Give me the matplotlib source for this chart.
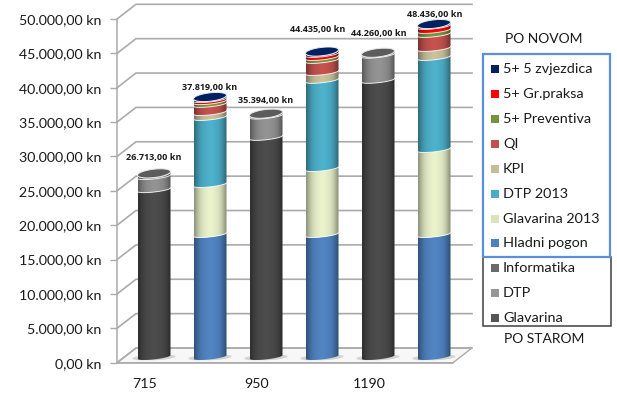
import numpy as np
import matplotlib
matplotlib.use("Agg")
import matplotlib.pyplot as plt
from matplotlib.patches import Polygon, Rectangle
from matplotlib.colors import to_rgb

W, H = 617, 394
plt.rcParams['font.family'] = ['Lato', 'DejaVu Sans']

# ---- data ----
bar_labels = ['715', '', '950', '', '1190', '']
totals_text = ['26.713,00 kn', '37.819,00 kn', '35.394,00 kn', '44.435,00 kn', '44.260,00 kn', '48.436,00 kn']
y_ticks = [0, 5000, 10000, 15000, 20000, 25000, 30000, 35000, 40000, 45000, 50000]
y_tick_labels = ['0,00 kn', '5.000,00 kn', '10.000,00 kn', '15.000,00 kn', '20.000,00 kn', '25.000,00 kn',
                 '30.000,00 kn', '35.000,00 kn', '40.000,00 kn', '45.000,00 kn', '50.000,00 kn']

glavarina   = [24000, 0, 31600, 0, 39900, 0]
dtp         = [1900, 0, 3100, 0, 3660, 0]
informatika = [813, 0, 694, 0, 700, 0]
hladni      = [0, 17470, 0, 17470, 0, 17470]
glav2013    = [0, 7280, 0, 9600, 0, 12370]
dtp2013     = [0, 9750, 0, 12830, 0, 13390]
kpi         = [0, 720, 0, 1150, 0, 1310]
qi          = [0, 1180, 0, 1750, 0, 2040]
preventiva  = [0, 400, 0, 430, 0, 580]
grpraksa    = [0, 300, 0, 440, 0, 580]
zvjezdica   = [0, 719, 0, 765, 0, 696]

series = [
    ('Glavarina', glavarina, '#4a4a4a'),
    ('DTP', dtp, '#8f8f8f'),
    ('Informatika', informatika, '#7c7c7c'),
    ('Hladni pogon', hladni, '#4f81bd'),
    ('Glavarina 2013', glav2013, '#e3ecc6'),
    ('DTP 2013', dtp2013, '#4bacc6'),
    ('KPI', kpi, '#c4bd97'),
    ('QI', qi, '#c0504d'),
    ('5+ Preventiva', preventiva, '#76923c'),
    ('5+ Gr.praksa', grpraksa, '#ff0000'),
    ('5+ 5 zvjezdica', zvjezdica, '#002060'),
]
legend_new = ['5+ 5 zvjezdica', '5+ Gr.praksa', '5+ Preventiva', 'QI', 'KPI', 'DTP 2013', 'Glavarina 2013', 'Hladni pogon']
legend_old = ['Informatika', 'DTP', 'Glavarina']
legend_colors = {'5+ 5 zvjezdica': '#002060', '5+ Gr.praksa': '#ff0000', '5+ Preventiva': '#76923c', 'QI': '#c0504d',
                 'KPI': '#c4bd97', 'DTP 2013': '#4bacc6', 'Glavarina 2013': '#d8e4bc', 'Hladni pogon': '#4f81bd',
                 'Informatika': '#6a6a6a', 'DTP': '#969696', 'Glavarina': '#555555'}

# ---- layout ----
fig = plt.figure(figsize=(W / 100, H / 100), dpi=100)
fig.patch.set_facecolor('white')
L, R, T, B = 117, 453, 19, 362.7
ax = fig.add_axes([L / W, 1 - B / H, (R - L) / W, (B - T) / H])
ax.set_facecolor('none')
xpx = 6 / (R - L)           # data per pixel
ypx = 50000 / (B - T)
dep_x, dep_y = 19 * xpx, 14.7 * ypx
ax.set_xlim(0, 6)
ax.set_ylim(0, 50000)

TXT = '#1a1a1a'
GRID = '#ababab'
for s in ['top', 'right']:
    ax.spines[s].set_visible(False)
for s in ['left', 'bottom']:
    ax.spines[s].set_color(GRID)
    ax.spines[s].set_linewidth(1.1)
ax.set_yticks(y_ticks)
ax.set_yticklabels(y_tick_labels, fontsize=10.2, color=TXT)
ax.tick_params(axis='y', length=5, width=1.0, color=GRID, pad=6)
xs = np.arange(6) + 0.5
ax.set_xticks(xs)
ax.set_xticklabels(bar_labels, fontsize=10.2, color=TXT)
ax.tick_params(axis='x', length=0, pad=11)

# walls & floor
ax.add_patch(Polygon([(0, 0), (6, 0), (6 + dep_x, dep_y), (dep_x, dep_y)], closed=True, fc='#f7f7f7',
                     ec=GRID, lw=1.0, clip_on=False, zorder=1))
for v in y_ticks:
    ax.plot([0, dep_x, 6 + dep_x], [v, v + dep_y, v + dep_y], color=GRID, lw=1.2, clip_on=False, zorder=1.5,
            solid_joinstyle='miter')

# cylinders
a = 16.5 * xpx
b_cap = 4.2 * ypx
b_seam = 2.4 * ypx
tilt = 1.8 * ypx
base_dx = 9 * xpx
base_dy = 5.7 * ypx
t_low = np.linspace(np.pi, 2 * np.pi, 60)
t_all = np.linspace(0, 2 * np.pi, 100)
shade = np.array([0.62, 0.78, 0.90, 0.97, 1.0, 1.03, 1.03, 1.0, 0.97, 0.90, 0.76, 0.58])
shade = np.interp(np.linspace(0, 1, 64), np.linspace(0, 1, len(shade)), shade)


def arc(y, sag, lift):
    """Lower arc of a tilted ellipse; lift moves it so the arc's middle sits on y."""
    return y + lift + sag * np.sin(t_low) + tilt * np.cos(t_low)


def ell(cx, y):
    return cx + a * np.cos(t_all), y + b_cap * np.sin(t_all) + tilt * np.cos(t_all)


label_dx = [0, 0, 0, -4, 1, 1]
label_dy = [16, 10, 13, 22, 19, 10]

for i, x0 in enumerate(xs):
    cx = x0 + base_dx
    xa = cx + a * np.cos(t_low)
    # floor shadow
    for off in (-5, 5):
        xe, ye = ell(cx + off * xpx, base_dy)
        ax.add_patch(Polygon(np.column_stack([xe, base_dy + (ye - base_dy) * 0.6 - 0.5 * ypx]), closed=True,
                             fc='#d2d2d2', ec='none', zorder=2, clip_on=False))
    bottom = base_dy
    segs = [(n, v[i], c) for n, v, c in series if v[i] > 0]
    yb = arc(bottom, b_seam, 0)
    for k, (n, v, c) in enumerate(segs):
        top = bottom + v
        is_last = k == len(segs) - 1
        yt = arc(top, b_cap, 0) if is_last else arc(top, b_seam, b_seam)
        rgb = np.array(to_rgb(c))
        img = np.clip(rgb[None, None, :] * shade[None, :, None], 0, 1)
        poly = Polygon(np.column_stack([np.r_[xa, xa[::-1]], np.r_[yb, yt[::-1]]]), closed=True, fc='none',
                       ec='none', transform=ax.transData)
        ax.add_patch(poly)
        im = ax.imshow(img, extent=[cx - a, cx + a, bottom - 3 * b_cap, top + 3 * b_cap], aspect='auto',
                       interpolation='bilinear', zorder=3 + k * 0.01, clip_on=True)
        im.set_clip_path(poly)
        ax.plot(xa, yt, color='white', lw=0.7, alpha=0.8, zorder=3.2, clip_on=False)
        bottom, yb = top, yt
    xe, ye = ell(cx, bottom)
    last = segs[-1][2]
    capc = np.array(to_rgb(last)) * (0.74 if last != '#002060' else 1.0)
    ax.add_patch(Polygon(np.column_stack([xe, ye]), closed=True, fc=capc, ec='#e8e8e8', lw=0.7, zorder=3.5,
                         clip_on=False))
    ax.text(cx + label_dx[i] * xpx, bottom + label_dy[i] * ypx, totals_text[i], ha='center', va='center',
            fontsize=6.5, fontweight='bold', family=['Open Sans', 'DejaVu Sans'], color=TXT, zorder=5, clip_on=False)
ax.set_xlim(0, 6)
ax.set_ylim(0, 50000)


# legend, placed in figure pixels
def fx(p):
    return p / W


def fy(p):
    return 1 - p / H


def box(x0, y0, x1, y1, col, lw):
    fig.add_artist(Rectangle((fx(x0), fy(y1)), (x1 - x0) / W, (y1 - y0) / H, transform=fig.transFigure, fc='white',
                             ec=col, lw=lw))


box(483, 257, 611, 326, '#404040', 1.1)
box(483, 54, 610, 257, '#5b8fd6', 1.6)

ys_new = [69, 94, 119, 144, 169, 194, 219, 243]
ys_old = [268, 293, 318]
for names, ys in ((legend_new, ys_new), (legend_old, ys_old)):
    for n, yy in zip(names, ys):
        fig.add_artist(Rectangle((fx(491), fy(yy + 4)), 8 / W, 8 / H, transform=fig.transFigure,
                                 fc=legend_colors[n], ec='none'))
        fig.text(fx(503), fy(yy), n, ha='left', va='center', fontsize=10.4, color=TXT)
fig.text(fx(544), fy(39), 'PO NOVOM', ha='center', va='center', fontsize=10, color=TXT)
fig.text(fx(544), fy(339), 'PO STAROM', ha='center', va='center', fontsize=10, color=TXT)

fig.savefig('out.png', dpi=100)
